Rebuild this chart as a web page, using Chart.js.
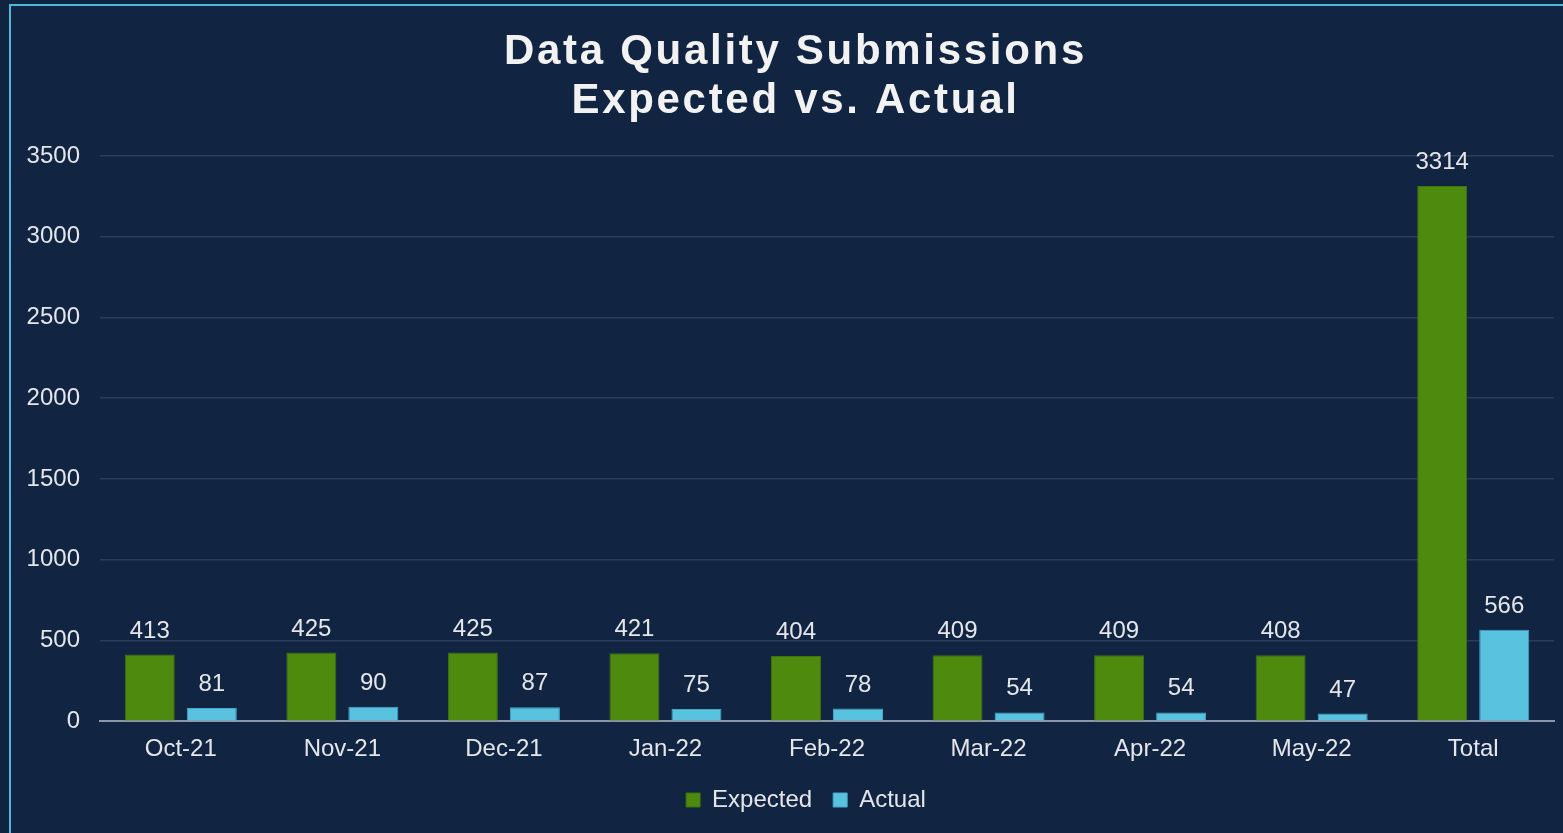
<!DOCTYPE html>
<html>
<head>
<meta charset="utf-8">
<script src="https://cdn.jsdelivr.net/npm/chart.js@4.4.0/dist/chart.umd.min.js"></script>
<style>
  html, body { margin: 0; padding: 0; background: #10233f; overflow: hidden; }
  #frame {
    position: absolute; left: 9px; top: 4px; width: 1600px; height: 900px;
    border: 2px solid #4fb8d8; background: #112543;
  }
  #wrap { position: absolute; left: 0; top: 0; width: 1563px; height: 833px; }
</style>
</head>
<body>
<div id="frame"></div>
<div id="wrap"><canvas id="chartDQ"></canvas></div>
<script>
// ── Data Quality Submissions: esperado vs. real ──
const categories = ['Oct-21', 'Nov-21', 'Dec-21', 'Jan-22', 'Feb-22', 'Mar-22', 'Apr-22', 'May-22', 'Total'];
const expected = [413, 425, 425, 421, 404, 409, 409, 408, 3314];
const actual = [81, 90, 87, 75, 78, 54, 54, 47, 566];
const yTicks = [0, 500, 1000, 1500, 2000, 2500, 3000, 3500];
const titleLines = ['Data Quality Submissions', 'Expected vs. Actual'];

const FONT = '"Liberation Sans", Arial, sans-serif';
const TXT = '#e4e6ea';

// Etiquetas de valor encima de cada barra
const valueLabels = {
  id: 'valueLabels',
  afterDatasetsDraw(chart) {
    const ctx = chart.ctx;
    ctx.save();
    ctx.font = '24px ' + FONT;
    ctx.fillStyle = TXT;
    ctx.textAlign = 'center';
    ctx.textBaseline = 'alphabetic';
    chart.data.datasets.forEach((ds, i) => {
      chart.getDatasetMeta(i).data.forEach((bar, j) => {
        ctx.fillText(String(ds.data[j]), bar.x, bar.y - 17);
      });
    });
    ctx.restore();
  },
};

// Título con espaciado entre letras
const spacedTitle = {
  id: 'spacedTitle',
  afterDraw(chart) {
    const ctx = chart.ctx;
    ctx.save();
    ctx.font = 'bold 42px ' + FONT;
    ctx.fillStyle = '#f2f2f2';
    ctx.textAlign = 'center';
    ctx.textBaseline = 'middle';
    if ('letterSpacing' in ctx) ctx.letterSpacing = '2.7px';
    const cx = chart.width / 2 + 14;
    titleLines.forEach((t, i) => ctx.fillText(t, cx, 52 + i * 49));
    ctx.restore();
  },
};

// Desplaza la leyenda un poco a la derecha, como en el original
const legendShift = {
  id: 'legendShift',
  afterLayout(chart) {
    chart.legend.left += 29;
    chart.legend.right += 29;
  },
};

const ctx = document.getElementById('chartDQ').getContext('2d');
new Chart(ctx, {
  type: 'bar',
  data: {
    labels: categories,
    datasets: [
      {
        label: 'Expected',
        data: expected,
        backgroundColor: '#4e8a0e',
        borderColor: '#3f7409',
        borderWidth: 1,
        categoryPercentage: 0.768,
        barPercentage: 0.806,
      },
      {
        label: 'Actual',
        data: actual,
        backgroundColor: '#58c2df',
        borderColor: '#46a9c8',
        borderWidth: 1,
        categoryPercentage: 0.768,
        barPercentage: 0.806,
      },
    ],
  },
  options: {
    responsive: true,
    maintainAspectRatio: false,
    animation: false,
    layout: { padding: { top: 156, right: 9, bottom: 11, left: 0 } },
    plugins: {
      title: { display: false },
      tooltip: { enabled: false },
      legend: {
        position: 'bottom',
        labels: {
          color: TXT,
          font: { size: 24, family: FONT },
          boxWidth: 14,
          boxHeight: 14,
          padding: 21,
        },
      },
    },
    scales: {
      x: {
        afterFit(scale) { scale.height -= 11; },
        grid: { display: false, drawTicks: false },
        border: { display: true, color: '#8b97a9', width: 2 },
        ticks: { color: TXT, font: { size: 24, family: FONT }, padding: 14 },
      },
      y: {
        min: 0,
        max: 3500,
        afterBuildTicks(scale) { scale.ticks = yTicks.map(v => ({ value: v })); },
        afterFit(scale) { scale.width = 100; },
        grid: { color: '#2a3e5c', lineWidth: 1.5, drawTicks: false },
        border: { display: false },
        ticks: {
          color: TXT,
          font: { size: 24, family: FONT },
          padding: 20,
          callback: v => String(v),
        },
      },
    },
  },
  plugins: [valueLabels, spacedTitle, legendShift],
});
</script>
</body>
</html>
